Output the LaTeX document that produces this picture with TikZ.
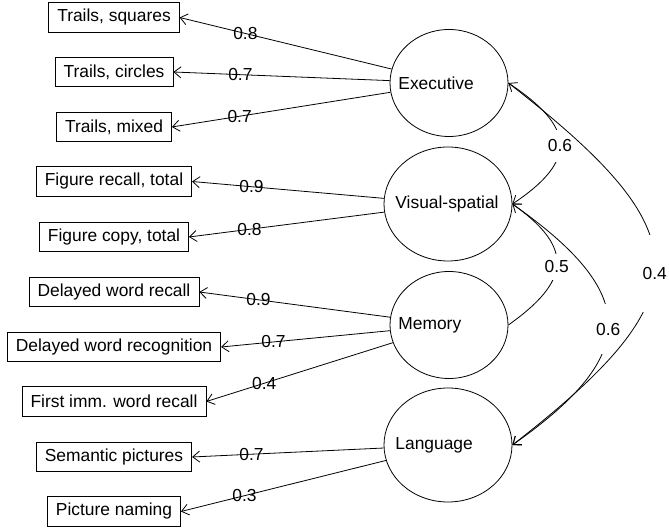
\documentclass[tikz,border=0pt]{standalone}
\usepackage{fontspec}
\setmainfont{Liberation Sans}
\usepackage{tikz}
\usetikzlibrary{arrows.meta,shapes.geometric,positioning}

\begin{document}
\begin{tikzpicture}[x = 1pt, y = 1pt, line width = .8pt,
  font = \fontsize{17.4}{21}\selectfont,
  >={Straight Barb[length=7pt,width=11pt]},
  obs/.style = {draw, rectangle, minimum height = 29.5pt, inner xsep = 8.5pt, inner ysep = 0pt},
  latent/.style = {draw, ellipse, inner sep = 0pt},
  wt/.style = {pos = .69, inner sep = 0pt},
  corr/.style = {fill = white, inner xsep = 1pt}]
\useasboundingbox (0, 0) rectangle (669, 529);

% observed variables
\node[obs] (trsq) at (114, 511.5) {Trails, squares};
\node[obs] (trci) at (114, 457) {Trails, circles};
\node[obs] (trmx) at (114, 402) {Trails, mixed};
\node[obs] (figrec) at (114, 347.5) {Figure recall, total};
\node[obs] (figcop) at (114, 292) {Figure copy, total};
\node[obs] (dwrec) at (114, 237) {Delayed word recall};
\node[obs] (dwrecog) at (114, 182) {Delayed word recognition};
\node[obs] (firstimm) at (114, 127.5) {First imm. word recall};
\node[obs] (sempic) at (114, 72) {Semantic pictures};
\node[obs] (picnam) at (114, 17.5) {Picture naming};

% factors
\node[latent, minimum width = 118, minimum height = 107] (exe) at (449, 446) {};
\node[latent, minimum width = 128, minimum height = 114] (vis) at (448, 325) {};
\node[latent, minimum width = 118, minimum height = 107] (mem) at (449, 204) {};
\node[latent, minimum width = 128, minimum height = 114] (lang) at (448, 84) {};
\node[anchor = west, inner sep = 0pt] (exetxt) at (398, 446) {Executive};
\node[anchor = west, inner sep = 0pt] (vistxt) at (395, 325) {Visual-spatial};
\node[anchor = west, inner sep = 0pt] (memtxt) at (398, 204) {Memory};
\node[anchor = west, inner sep = 0pt] (langtxt) at (395, 84) {Language};

% loadings
\draw[->] (exe) -- node[wt] {0.8} (trsq.east);
\draw[->] (exe) -- node[wt] {0.7} (trci.east);
\draw[->] (exe) -- node[wt] {0.7} (trmx.east);
\draw[->] (vis) -- node[wt] {0.9} (figrec.east);
\draw[->] (vis) -- node[wt] {0.8} (figcop.east);
\draw[->] (mem) -- node[wt] {0.9} (dwrec.east);
\draw[->] (mem) -- node[wt] {0.7} (dwrecog.east);
\draw[->] (mem) -- node[wt] {0.4} (firstimm.east);
\draw[->] (lang) -- node[wt] {0.7} (sempic.east);
\draw[->] (lang) -- node[wt] {0.3} (picnam.east);

% factor correlations
\draw[<->] (exe.east) .. controls +(66, -44) and +(66, 44) .. node[corr, pos = .52, inner ysep = 10pt] {0.6} (vis.east);
\draw[->] (mem.east) .. controls +(62, 44) and +(62, -44) .. node[corr, pos = .48, inner ysep = 7pt] {0.5} (vis.east);
\draw[->] (vis.east) .. controls +(128, -90) and +(128, 90) .. node[corr, pos = .52, inner ysep = 19pt] {0.6} (lang.east);
\draw[->] (exe.east) .. controls +(193, -150) and +(193, 150) .. node[corr, pos = .53, inner ysep = 32pt] {0.4} (lang.east);

\end{tikzpicture}
\end{document}
